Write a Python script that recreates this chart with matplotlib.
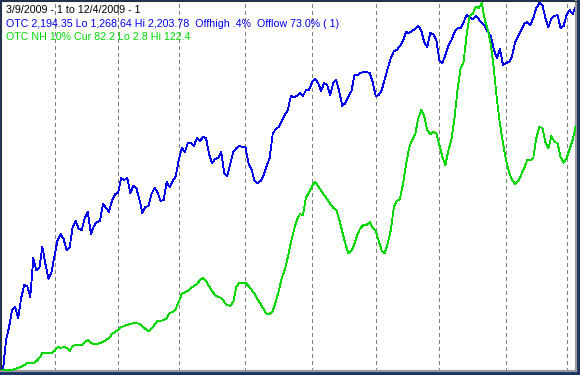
"""
OTC (Nasdaq composite) close vs. OTC new-highs 10% indicator, 3/9/2009 - 12/4/2009.
Each series gets its own scale so both fill the window from low to high.
"""

import matplotlib

matplotlib.use("Agg")  # non-interactive backend
import matplotlib.pyplot as plt
import pandas as pd

START, END = "2009-03-09", "2009-12-04"
HOLIDAYS = ["2009-04-10", "2009-05-25", "2009-07-03", "2009-09-07", "2009-11-26"]

otc_close = [
    1268.64, 1345.1, 1378.2, 1421.5, 1429.2, 1401.1, 1452.1, 1485.2, 1482.7, 1454.6,
    1554.0, 1523.4, 1528.5, 1582.0, 1538.7, 1500.5, 1518.3, 1559.1, 1599.9, 1615.1,
    1602.4, 1574.4, 1582.0, 1633.0, 1648.3, 1627.9, 1625.3, 1655.9, 1671.2, 1615.1,
    1635.5, 1645.7, 1648.3, 1691.6, 1681.4, 1671.2, 1701.8, 1717.0, 1719.6, 1757.8,
    1752.7, 1757.8, 1719.6, 1737.4, 1732.3, 1704.3, 1668.6, 1683.9, 1686.5, 1717.0,
    1732.3, 1722.1, 1699.2, 1701.8, 1747.6, 1734.9, 1750.2, 1762.9, 1803.7, 1834.3,
    1824.1, 1847.0, 1847.0, 1839.4, 1859.7, 1852.1, 1862.3, 1859.7, 1819.0, 1796.0,
    1806.2, 1808.8, 1824.1, 1770.6, 1762.9, 1793.5, 1824.1, 1834.3, 1839.4, 1836.8,
    1836.8, 1796.0, 1780.7, 1750.2, 1745.1, 1750.2, 1765.5, 1788.4, 1808.8, 1869.9,
    1882.7, 1887.8, 1903.1, 1918.3, 1931.1, 1966.8, 1964.2, 1966.8, 1974.4, 1966.8,
    1982.0, 1982.0, 2002.4, 2010.1, 1999.9, 1979.5, 1999.9, 1994.8, 1969.3, 1999.9,
    2007.5, 1976.9, 1941.3, 1948.9, 1964.2, 1979.5, 2020.3, 2020.3, 2025.4, 2027.9,
    2027.9, 2025.4, 2002.4, 1966.8, 1969.3, 1982.0, 2010.1, 2038.1, 2063.6, 2081.4,
    2084.0, 2094.2, 2106.9, 2129.8, 2127.3, 2132.4, 2137.5, 2145.1, 2134.9, 2104.3,
    2091.6, 2127.3, 2124.7, 2109.4, 2058.5, 2050.8, 2071.2, 2094.2, 2109.4, 2129.8,
    2140.0, 2140.0, 2155.3, 2173.1, 2168.0, 2162.9, 2170.6, 2162.9, 2152.8, 2145.1,
    2129.8, 2119.6, 2084.0, 2063.6, 2086.5, 2045.7, 2050.8, 2053.4, 2068.7, 2104.3,
    2119.6, 2134.9, 2150.2, 2155.3, 2147.7, 2165.5, 2191.0, 2203.78, 2198.6, 2165.5,
    2142.6, 2165.5, 2170.6, 2173.1, 2140.0, 2145.1, 2173.1, 2185.9, 2175.7, 2194.35,
]

otc_nh10 = [
    2.8, 2.8, 2.8, 2.8, 3.1, 3.5, 3.8, 4.4, 5.1, 5.1,
    5.1, 5.7, 6.7, 8.3, 8.3, 8.3, 8.3, 9.0, 10.3, 10.0,
    10.3, 10.0, 9.0, 10.6, 11.0, 11.0, 11.0, 11.9, 12.6, 11.6,
    11.3, 11.3, 11.6, 11.9, 12.6, 13.2, 14.5, 15.2, 15.8, 16.8,
    17.1, 17.5, 17.8, 18.1, 18.1, 17.8, 17.1, 16.2, 15.5, 16.2,
    17.5, 18.8, 18.8, 19.1, 19.7, 21.4, 21.7, 22.7, 25.0, 27.6,
    28.2, 28.5, 29.5, 30.2, 30.8, 32.1, 32.8, 31.8, 30.2, 28.5,
    27.2, 26.6, 26.3, 25.0, 24.0, 23.7, 25.0, 29.9, 31.2, 31.2,
    31.2, 30.2, 28.9, 27.6, 25.9, 24.3, 22.7, 21.1, 21.1, 22.0,
    25.0, 28.5, 32.8, 35.4, 39.6, 44.2, 48.4, 51.7, 53.6, 53.3,
    59.2, 60.5, 62.8, 64.1, 62.8, 61.1, 59.8, 58.5, 56.9, 55.6,
    55.0, 51.7, 47.8, 43.9, 40.9, 41.6, 43.9, 47.1, 49.1, 50.1,
    50.1, 51.0, 49.1, 48.1, 44.8, 41.6, 40.9, 44.2, 48.4, 55.9,
    57.9, 58.5, 63.4, 69.6, 75.1, 77.8, 79.4, 84.6, 87.5, 85.6,
    81.0, 79.7, 80.4, 80.0, 76.1, 72.2, 69.6, 74.5, 77.8, 84.9,
    94.1, 101.2, 103.2, 112.0, 118.2, 118.8, 121.1, 120.8, 122.4, 116.9,
    113.6, 108.7, 100.9, 90.8, 83.0, 76.8, 71.2, 67.3, 64.7, 63.4,
    64.4, 66.4, 68.6, 71.2, 71.2, 71.9, 78.4, 82.0, 81.7, 77.1,
    75.1, 79.1, 77.1, 76.8, 72.2, 70.3, 71.9, 74.8, 77.8, 82.2,
]

header = "3/9/2009 - 1 to 12/4/2009 - 1"
otc_label = "OTC 2,194.35 Lo 1,268.64 Hi 2,203.78  Offhigh .4%  Offlow 73.0% ( 1)"
nh_label = "OTC NH 10% Cur 82.2 Lo 2.8 Hi 122.4"

BLUE = "#0000f0"
GREEN = "#00d800"

# trading calendar
days = pd.bdate_range(START, END)
days = days[~days.isin(pd.to_datetime(HOLIDAYS))]
assert len(days) == len(otc_close) == len(otc_nh10)
idx = list(range(len(days)))
month_starts = [i for i in idx[1:] if days[i].month != days[i - 1].month]

W, H = 580, 375
fig = plt.figure(figsize=(W / 100, H / 100), dpi=100, facecolor="#1d3566")
ax = fig.add_axes([1 / W, 4 / H, 575 / W, 370 / H])
ax.set_facecolor("white")

for m in month_starts:
    ax.axvline(m, color="#808080", lw=0.72, ls=(0, (4, 3)), antialiased=False, zorder=1)

ax.plot(idx, otc_close, color=BLUE, lw=0.6, antialiased=False, zorder=3)

ax2 = ax.twinx()
ax2.plot(idx, otc_nh10, color=GREEN, lw=0.6, antialiased=False, zorder=3)


def fit_range(vals):
    # low on the bottom pixel row, high two rows under the top
    lo, hi = min(vals), max(vals)
    px = (hi - lo) / 367
    return lo - px, hi + 2 * px


ax.set_ylim(*fit_range(otc_close))
ax2.set_ylim(*fit_range(otc_nh10))
ax.set_xlim(-0.66, len(idx) - 0.9)

for a in (ax, ax2):
    a.set_xticks([])
    a.set_yticks([])
    a.spines["top"].set_color("#303030")
    a.spines["left"].set_color("#303030")
    a.spines["top"].set_linewidth(0.75)
    a.spines["left"].set_linewidth(0.75)
    a.spines["bottom"].set_color("#9a9a9a")
    a.spines["right"].set_color("#9a9a9a")
    a.spines["bottom"].set_linewidth(1.5)
    a.spines["right"].set_linewidth(1.5)

# header lines; font size chosen so the green line is ~184 px wide like the original
font = dict(family="Liberation Sans", va="baseline", ha="left", zorder=5)
probe = fig.text(0, 0, nh_label, fontsize=10, **font)
width10 = probe.get_window_extent(renderer=fig.canvas.get_renderer()).width
probe.remove()
size = 10 * 184 / width10

fig.text(6 / W, 1 - 13 / H, header, color="black", fontsize=size, **font)
fig.text(6 / W, 1 - 27 / H, otc_label, color=BLUE, fontsize=size, **font)
fig.text(6 / W, 1 - 40 / H, nh_label, color=GREEN, fontsize=size, **font)

fig.savefig("out.png", dpi=100, facecolor=fig.get_facecolor())
